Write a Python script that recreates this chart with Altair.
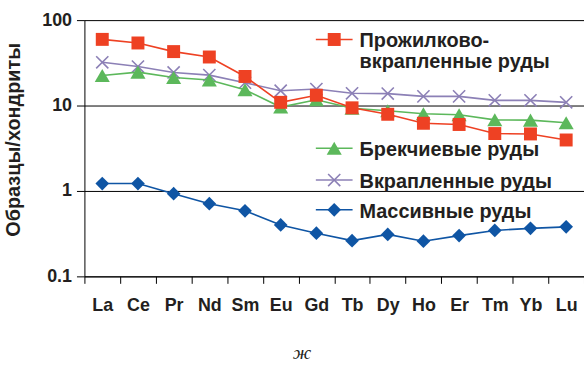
import altair as alt
import pandas as pd

elements = ["La", "Ce", "Pr", "Nd", "Sm", "Eu", "Gd", "Tb", "Dy", "Ho", "Er", "Tm", "Yb", "Lu"]
veinlet = [59.5, 54, 42.8, 37, 21.9, 10.9, 13.2, 9.4, 7.9, 6.2, 6.0, 4.7, 4.65, 3.95]
breccia = [22.5, 24.6, 21.3, 19.9, 15.3, 9.6, 11.7, 9.3, 8.7, 8.0, 7.8, 6.8, 6.75, 6.3]
dissem = [32.1, 28.6, 24.4, 22.7, 18.5, 14.9, 15.6, 13.9, 13.8, 12.8, 12.8, 11.5, 11.5, 10.9]
massive = [1.22, 1.22, 0.93, 0.71, 0.585, 0.40, 0.32, 0.262, 0.31, 0.258, 0.30, 0.345, 0.365, 0.38]

names = ["Прожилково-вкрапленные руды", "Брекчиевые руды", "Вкрапленные руды", "Массивные руды"]
legend_lines = [["Прожилково-", "вкрапленные руды"], ["Брекчиевые руды"], ["Вкрапленные руды"], ["Массивные руды"]]
y_ticks = [0.1, 1, 10, 100]
caption = "ж"

X_PATH = "M-1,-1L1,1M1,-1L-1,1"
styles = {
    names[0]: dict(color="#EE4123", shape="square", filled=True, size=170),
    names[1]: dict(color="#5CB85B", shape="triangle-up", filled=True, size=230),
    names[2]: dict(color="#8C80B6", shape=X_PATH, filled=False, size=150),
    names[3]: dict(color="#0F55A4", shape="diamond", filled=True, size=190),
}

series = {names[0]: veinlet, names[1]: breccia, names[2]: dissem, names[3]: massive}
rows = []
for n, vals in series.items():
    for e, v in zip(elements, vals):
        rows.append({"series": n, "element": e, "value": v})
df = pd.DataFrame(rows)

FONT = "Liberation Sans"
TXT = "#231F20"

x_enc = alt.X(
    "element:N", sort=elements,
    scale=alt.Scale(paddingInner=0, paddingOuter=0),
    axis=alt.Axis(title=None, tickBand="extent", tickSize=7, tickColor="black",
                  domainColor="black", labelFont=FONT, labelFontSize=18,
                  labelFontWeight="bold", labelColor=TXT, labelPadding=13,
                  labelAngle=0, grid=False, orient="bottom"),
)
y_enc = alt.Y(
    "value:Q",
    scale=alt.Scale(type="log", domain=[0.1, 100]),
    axis=alt.Axis(values=y_ticks, format="~g", title="Образцы/хондриты",
                  titleFont=FONT, titleFontSize=20, titleFontWeight="bold",
                  titleColor=TXT, titleX=-71, titleY=120, titleAngle=270,
                  titleAlign="center", titleBaseline="middle",
                  tickSize=8, tickColor="black", domainColor="black",
                  labelFont=FONT, labelFontSize=18, labelFontWeight="bold",
                  labelColor=TXT, labelPadding=5,
                  grid=True, gridColor="black", gridWidth=1, gridOpacity=1),
)

layers = []
order = [names[3], names[2], names[1], names[0]]
for n in order:
    st = styles[n]
    d = df[df.series == n]
    base = alt.Chart(d).encode(x=x_enc, y=y_enc)
    layers.append(base.mark_line(color=st["color"], strokeWidth=1.6))
    layers.append(base.mark_point(shape=st["shape"], filled=st["filled"], size=st["size"],
                                  color=st["color"], opacity=1,
                                  strokeWidth=1.6 if not st["filled"] else 0))

# custom legend (positions relative to plot origin)
legend_y = [19.5, 129, 161, 191]
for i, n in enumerate(names):
    st = styles[n]
    ly = legend_y[i]
    one = alt.Chart(alt.Data(values=[{"k": 1}]))
    layers.append(one.mark_rule(color=st["color"], strokeWidth=1.6).encode(
        x=alt.value(233), x2=alt.value(270), y=alt.value(ly)))
    layers.append(one.mark_point(shape=st["shape"], filled=st["filled"], size=st["size"],
                                 color=st["color"], opacity=1,
                                 strokeWidth=1.6 if not st["filled"] else 0).encode(
        x=alt.value(251.5), y=alt.value(ly)))
    for j, line in enumerate(legend_lines[i]):
        layers.append(alt.Chart(alt.Data(values=[{"t": line}])).mark_text(
            align="left", baseline="middle", font=FONT, fontSize=20, fontWeight="bold",
            color=TXT).encode(x=alt.value(277), y=alt.value(ly + 2 + j * 21), text="t:N"))

layers.append(alt.Chart(alt.Data(values=[{"t": caption}])).mark_text(
    align="center", baseline="bottom", font="Liberation Serif", fontSize=20,
    fontStyle="italic", color=TXT).encode(x=alt.value(219), y=alt.value(345), text="t:N"))

chart = alt.layer(*layers).properties(
    width=503, height=258,
    autosize=alt.AutoSizeParams(type="none"),
    padding={"left": 85, "top": 19, "right": 0, "bottom": 90},
    background="white",
).configure_view(stroke=None)

chart.save("out.html", embed_options={"renderer": "svg", "actions": False})
